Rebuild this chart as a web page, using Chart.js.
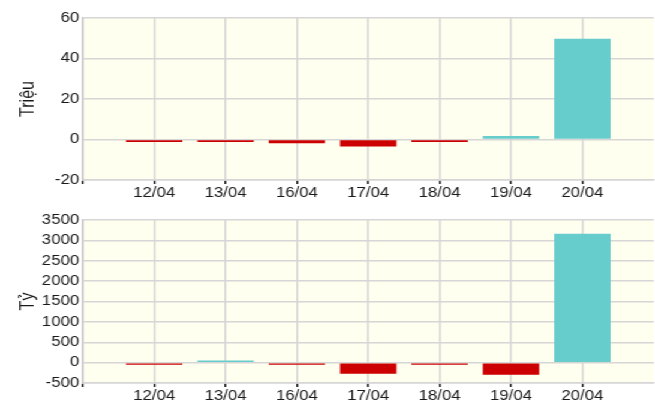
<!DOCTYPE html>
<html>
<head>
<meta charset="utf-8">
<script src="https://cdn.jsdelivr.net/npm/chart.js@4.4.1/dist/chart.umd.min.js"></script>
<style>
  html, body { margin: 0; padding: 0; background: #fff; }
  #wrap { width: 546px; height: 403px; transform: scaleX(1.1996); transform-origin: 0 0; }
  canvas { display: block; }
</style>
</head>
<body>
<div id="wrap">
  <canvas id="topChart" width="546" height="200"></canvas>
  <canvas id="bottomChart" width="546" height="203"></canvas>
</div>
<script>
const days = ["12/04", "13/04", "16/04", "17/04", "18/04", "19/04", "20/04"];
const trieuValues = [-1.2, -1.2, -1.8, -3.4, -1.2, 1.7, 49.8];
const tyValues = [-55, 55, -55, -270, -55, -300, 3160];

const RED = "#CC0000";
const TEAL = "#66CCCC";
const GRID = "#d6d6d6";
const TEXT = "#1a1a1a";
const FONT = "'Liberation Sans', Arial, sans-serif";

// empty slot on each side so the bars sit inside the grid like the original
const labels = ["", ...days, ""];
const lastIdx = labels.length - 1;

const plotBg = {
  id: "plotBg",
  beforeDraw(chart) {
    const { ctx, chartArea: a } = chart;
    ctx.save();
    ctx.fillStyle = "#FFFFF0";
    ctx.fillRect(a.left, a.top, a.right - a.left, a.bottom - a.top);
    ctx.restore();
  },
};

function makeChart(id, values, yMin, yMax, step, title, padTop) {
  const ctx = document.getElementById(id).getContext("2d");
  return new Chart(ctx, {
    type: "bar",
    data: {
      labels: labels,
      datasets: [
        {
          data: [null, ...values, null],
          backgroundColor: (c) => (c.raw < 0 ? RED : TEAL),
          borderWidth: 0,
          barPercentage: 0.79,
          categoryPercentage: 1,
        },
      ],
    },
    options: {
      responsive: false,
      animation: false,
      layout: { padding: { top: padTop, right: 0, bottom: 0, left: 0 } },
      plugins: {
        legend: { display: false },
        tooltip: { enabled: false },
      },
      scales: {
        x: {
          offset: false,
          grid: {
            offset: false,
            color: (c) => (c.index === lastIdx ? "transparent" : GRID),
            lineWidth: 1.5,
            tickLength: 4,
            tickColor: (c) => (c.index === lastIdx ? "transparent" : TEXT),
            tickWidth: 1.5,
          },
          border: { color: GRID, width: 1.5 },
          ticks: {
            font: { family: FONT, size: 14 },
            color: TEXT,
            padding: 1,
            maxRotation: 0,
            autoSkip: false,
          },
          afterFit: (s) => { s.height = 20; },
        },
        y: {
          min: yMin,
          max: yMax,
          grid: { color: GRID, lineWidth: 1.5, drawTicks: false },
          border: { color: "#c8c8c8", width: 1.5 },
          ticks: {
            stepSize: step,
            font: { family: FONT, size: 14 },
            color: TEXT,
            padding: 3,
            callback: (v) => String(v),
          },
          title: {
            display: true,
            text: title,
            font: { family: FONT, size: 16 },
            color: TEXT,
            padding: { top: 14, bottom: 0 },
          },
          afterFit: (s) => { s.width = 69; },
        },
      },
    },
    plugins: [plotBg],
  });
}

makeChart("topChart", trieuValues, -20, 60, 20, "Triệu", 18);
makeChart("bottomChart", tyValues, -500, 3500, 500, "Tỷ", 20);
</script>
</body>
</html>
